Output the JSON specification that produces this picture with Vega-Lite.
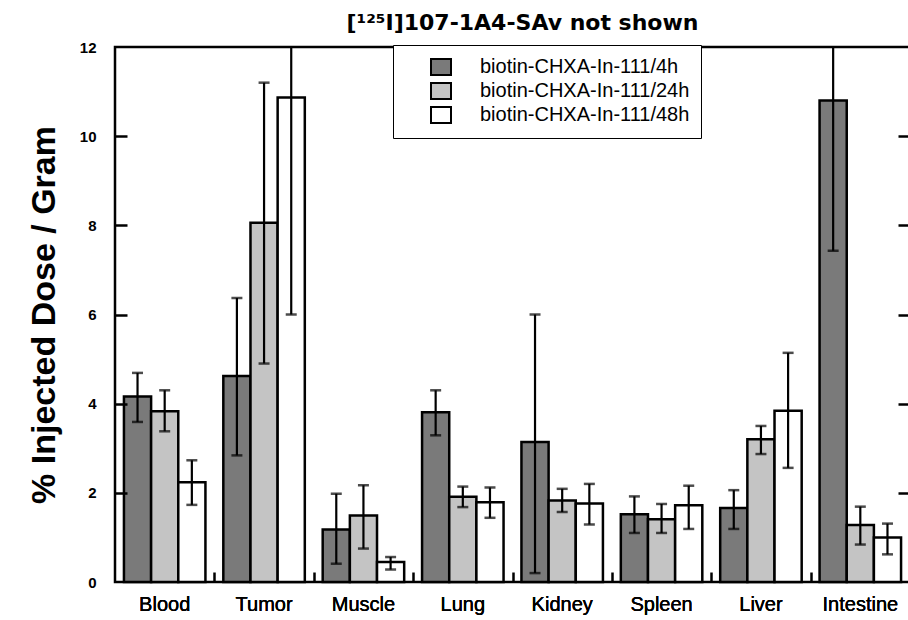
{
  "$schema": "https://vega.github.io/schema/vega-lite/v6.json",
  "width": 795,
  "height": 535,
  "autosize": {"type": "none"},
  "padding": {"left": 115, "top": 47, "right": 0, "bottom": 38},
  "background": "white",
  "title": {"text": "[¹²⁵I]107-1A4-SAv not shown", "font": "DejaVu Sans", "fontWeight": "bold", "fontSize": 22, "color": "black", "offset": 5, "dx": 10},
  "config": {
    "view": {"stroke": "black", "strokeWidth": 2.5},
    "axis": {"domainColor": "black", "tickColor": "black", "labelColor": "black", "titleColor": "black", "grid": false, "zindex": 1}
  },
  "data": {
    "values": [
      {"organ": "Blood", "time": "biotin-CHXA-In-111/4h", "value": 4.16, "lo": 3.59, "hi": 4.69},
      {"organ": "Blood", "time": "biotin-CHXA-In-111/24h", "value": 3.83, "lo": 3.38, "hi": 4.30},
      {"organ": "Blood", "time": "biotin-CHXA-In-111/48h", "value": 2.24, "lo": 1.73, "hi": 2.73},
      {"organ": "Tumor", "time": "biotin-CHXA-In-111/4h", "value": 4.62, "lo": 2.84, "hi": 6.37},
      {"organ": "Tumor", "time": "biotin-CHXA-In-111/24h", "value": 8.06, "lo": 4.90, "hi": 11.2},
      {"organ": "Tumor", "time": "biotin-CHXA-In-111/48h", "value": 10.87, "lo": 6.0, "hi": 15.7},
      {"organ": "Muscle", "time": "biotin-CHXA-In-111/4h", "value": 1.18, "lo": 0.41, "hi": 1.98},
      {"organ": "Muscle", "time": "biotin-CHXA-In-111/24h", "value": 1.49, "lo": 0.75, "hi": 2.17},
      {"organ": "Muscle", "time": "biotin-CHXA-In-111/48h", "value": 0.45, "lo": 0.28, "hi": 0.56},
      {"organ": "Lung", "time": "biotin-CHXA-In-111/4h", "value": 3.81, "lo": 3.29, "hi": 4.30},
      {"organ": "Lung", "time": "biotin-CHXA-In-111/24h", "value": 1.91, "lo": 1.68, "hi": 2.14},
      {"organ": "Lung", "time": "biotin-CHXA-In-111/48h", "value": 1.79, "lo": 1.44, "hi": 2.12},
      {"organ": "Kidney", "time": "biotin-CHXA-In-111/4h", "value": 3.14, "lo": 0.20, "hi": 6.0},
      {"organ": "Kidney", "time": "biotin-CHXA-In-111/24h", "value": 1.83, "lo": 1.57, "hi": 2.09},
      {"organ": "Kidney", "time": "biotin-CHXA-In-111/48h", "value": 1.76, "lo": 1.29, "hi": 2.20},
      {"organ": "Spleen", "time": "biotin-CHXA-In-111/4h", "value": 1.52, "lo": 1.10, "hi": 1.92},
      {"organ": "Spleen", "time": "biotin-CHXA-In-111/24h", "value": 1.41, "lo": 1.10, "hi": 1.75},
      {"organ": "Spleen", "time": "biotin-CHXA-In-111/48h", "value": 1.72, "lo": 1.19, "hi": 2.16},
      {"organ": "Liver", "time": "biotin-CHXA-In-111/4h", "value": 1.66, "lo": 1.19, "hi": 2.06},
      {"organ": "Liver", "time": "biotin-CHXA-In-111/24h", "value": 3.20, "lo": 2.87, "hi": 3.50},
      {"organ": "Liver", "time": "biotin-CHXA-In-111/48h", "value": 3.84, "lo": 2.56, "hi": 5.14},
      {"organ": "Intestine", "time": "biotin-CHXA-In-111/4h", "value": 10.8, "lo": 7.43, "hi": 14.2},
      {"organ": "Intestine", "time": "biotin-CHXA-In-111/24h", "value": 1.28, "lo": 0.84, "hi": 1.69},
      {"organ": "Intestine", "time": "biotin-CHXA-In-111/48h", "value": 1.0, "lo": 0.62, "hi": 1.31}
    ]
  },
  "encoding": {
    "x": {
      "field": "organ", "type": "nominal",
      "sort": ["Blood", "Tumor", "Muscle", "Lung", "Kidney", "Spleen", "Liver", "Intestine"],
      "scale": {"paddingInner": 0.18, "paddingOuter": 0.09},
      "axis": {"title": null, "orient": "bottom", "domain": false, "ticks": false, "zindex": 1, "labelAngle": 0, "labelFont": "Liberation Sans", "labelFontWeight": "normal", "labelFontSize": 20, "labelPadding": 12}
    },
    "xOffset": {
      "field": "time", "type": "nominal",
      "sort": ["biotin-CHXA-In-111/4h", "biotin-CHXA-In-111/24h", "biotin-CHXA-In-111/48h"],
      "scale": {"paddingInner": 0, "paddingOuter": 0}
    }
  },
  "layer": [
    {
      "mark": {"type": "bar", "stroke": "black", "strokeWidth": 2.5},
      "encoding": {
        "y": {
          "field": "value", "type": "quantitative",
          "scale": {"domain": [0, 12], "nice": false},
          "axis": {"title": "% Injected Dose / Gram", "orient": "left", "zindex": 1, "ticks": false, "titleFont": "Liberation Sans", "titleFontWeight": "bold", "titleFontSize": 34, "titlePadding": 18, "values": [0, 2, 4, 6, 8, 10, 12], "domain": false, "labelPadding": 19, "labelFont": "Liberation Sans", "labelFontWeight": "bold", "labelFontSize": 15}
        },
        "fill": {
          "field": "time", "type": "nominal",
          "scale": {"domain": ["biotin-CHXA-In-111/4h", "biotin-CHXA-In-111/24h", "biotin-CHXA-In-111/48h"], "range": ["#7a7a7a", "#c4c4c4", "#ffffff"]},
          "legend": {"title": null, "orient": "none", "legendX": 278, "legendY": -2, "direction": "vertical", "padding": 11, "fillColor": "white", "strokeColor": "black", "symbolType": "M-1,-0.8H1V0.8H-1Z", "symbolSize": 400, "symbolStrokeColor": "black", "symbolStrokeWidth": 2, "symbolOffset": 26, "labelOffset": 28, "labelFont": "Liberation Sans", "labelFontSize": 20, "labelColor": "black", "labelLimit": 400, "rowPadding": 0}
        }
      }
    },
    {
      "mark": {"type": "rule", "color": "black", "strokeWidth": 2.2, "clip": true},
      "encoding": {
        "y": {
          "field": "lo", "type": "quantitative",
          "axis": {"orient": "right", "zindex": 1, "title": null, "labels": false, "domain": false, "values": [2, 4, 6, 8, 10], "tickSize": -12, "tickWidth": 2.5}
        },
        "y2": {"field": "hi"}
      }
    },
    {
      "mark": {"type": "tick", "color": "black", "size": 11, "thickness": 2.5, "clip": true, "orient": "horizontal"},
      "encoding": {
        "y": {
          "field": "hi", "type": "quantitative",
          "axis": {"orient": "right", "offset": -795, "zindex": 1, "title": null, "labels": false, "domain": false, "values": [2, 4, 6, 8, 10], "tickSize": 12, "tickWidth": 2.5}
        }
      }
    },
    {
      "mark": {"type": "tick", "color": "black", "size": 11, "thickness": 2.5, "clip": true, "orient": "horizontal"},
      "encoding": {
        "x": {
          "field": "organ", "type": "nominal",
          "sort": ["Blood", "Tumor", "Muscle", "Lung", "Kidney", "Spleen", "Liver", "Intestine"],
          "axis": {"orient": "top", "offset": -535, "zindex": 1, "title": null, "labels": false, "domain": false, "tickSize": 10, "tickWidth": 2.5, "tickOffset": 49.69}
        },
        "y": {"field": "lo", "type": "quantitative", "axis": null}
      }
    }
  ],
  "resolve": {"axis": {"x": "independent", "y": "independent"}}
}
